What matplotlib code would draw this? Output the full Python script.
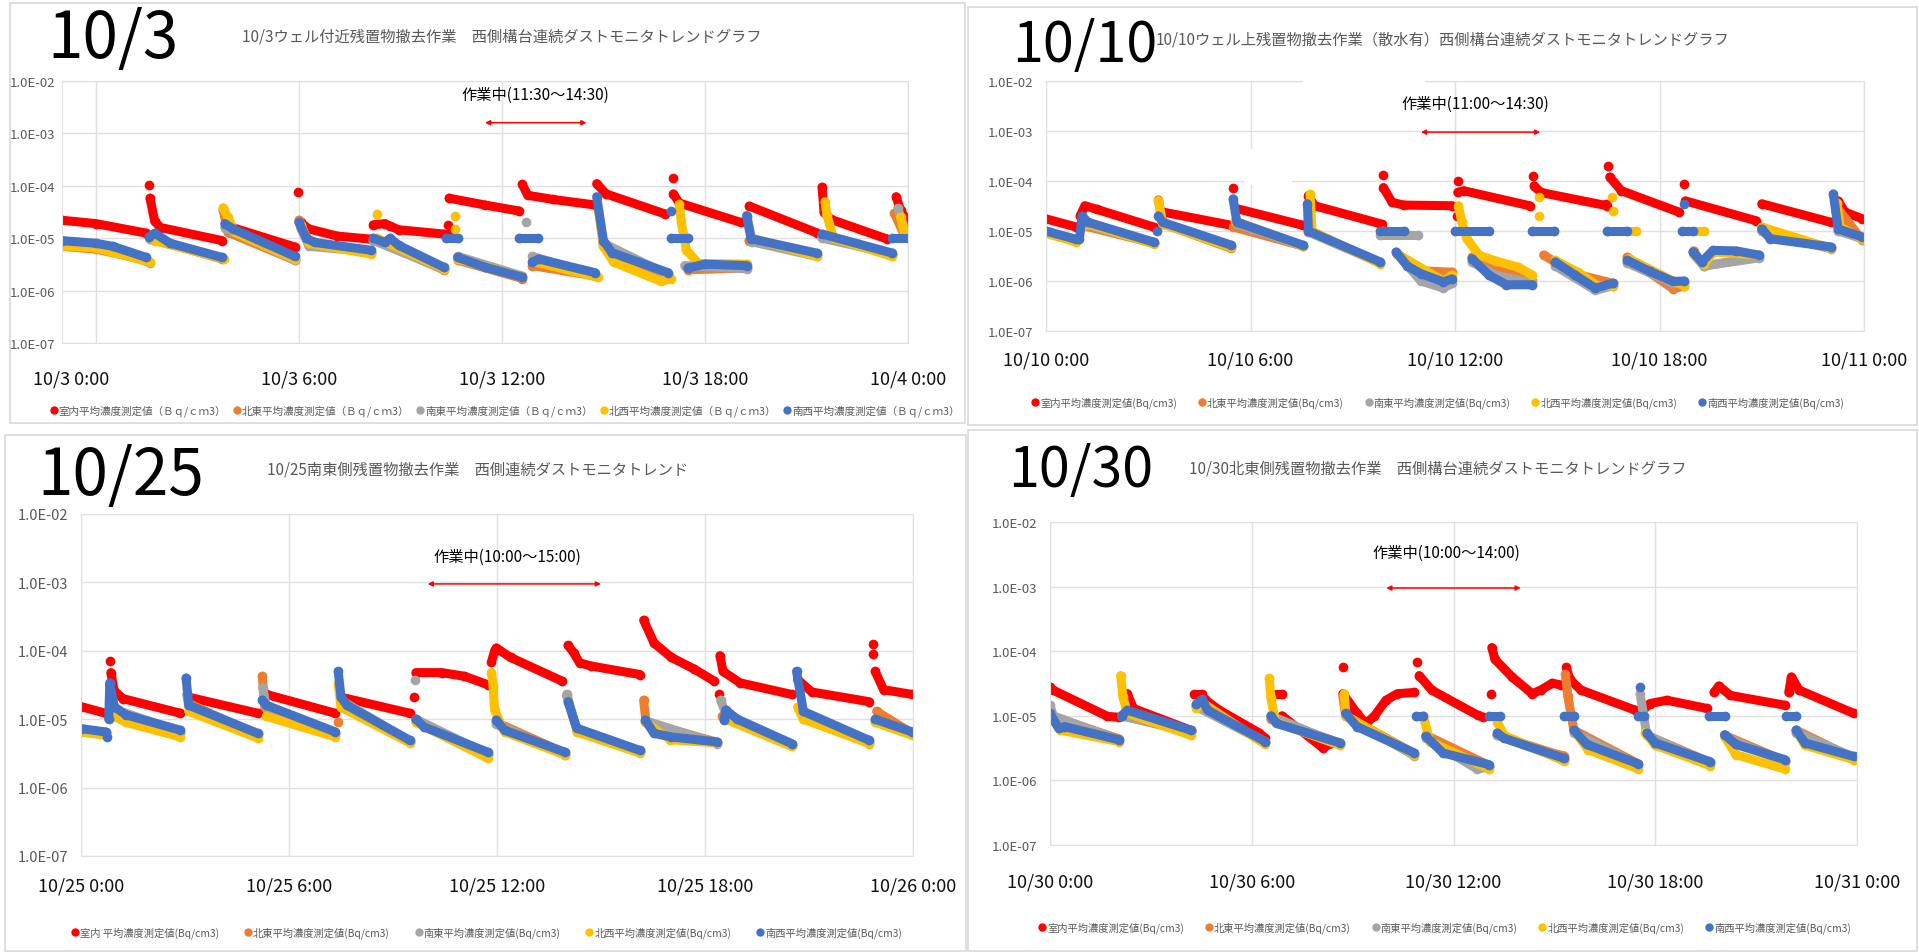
import matplotlib as mpl
mpl.use('Agg')
import matplotlib.pyplot as plt
import matplotlib.transforms as mtransforms
from matplotlib.lines import Line2D
from matplotlib.patches import Rectangle
from matplotlib.ticker import NullLocator

plt.rcParams['font.family'] = ['Noto Sans CJK JP', 'DejaVu Sans']

# ---------------- data (hour of day, Bq/cm3), one list per series and day ----------------
# 10/3 (logging starts shortly before midnight)
red_03 = [
    [(-1.0, 2.2e-5), (0.0, 1.9e-5), (1.49, 1.25e-5)], [(1.57, 1.05e-4)],
    [(1.6, 5.8e-5), (1.74, 2.1e-5), (1.91, 1.6e-5), (3.73, 9.0e-6)],
    [(3.9, 1.7e-5), (5.88, 6.8e-6)], [(5.97, 7.6e-5)],
    [(6.05, 2.0e-5), (6.3, 1.5e-5), (7.13, 1.1e-5), (8.12, 9.6e-6)],
    [(8.2, 1.8e-5), (8.54, 1.9e-5), (8.7, 1.7e-5), (8.95, 1.45e-5), (10.28, 1.2e-5)],
    [(10.4, 1.8e-5)], [(10.4, 1.2e-5)],
    [(10.44, 5.8e-5), (11.5, 4.3e-5), (12.51, 3.3e-5)],
    [(12.6, 1.07e-4), (12.76, 6.6e-5), (13.5, 5.5e-5), (14.75, 4.3e-5)],
    [(14.8, 1.1e-4), (15.08, 7.0e-5), (16.82, 2.9e-5)], [(17.05, 1.4e-4)],
    [(17.07, 7.0e-5), (17.24, 4.7e-5), (19.06, 2.0e-5)],
    [(19.31, 4.1e-5), (21.3, 1.27e-5)],
    [(21.46, 9.4e-5), (21.52, 3.1e-5), (21.71, 2.3e-5), (23.37, 9.7e-6)],
    [(23.65, 6.2e-5), (23.78, 3.4e-5), (24.0, 2.0e-5)],
]
orange_03 = [
    [(-1.0, 7.0e-6), (0.0, 6.2e-6), (1.5, 3.8e-6)], [(1.6, 1.0e-5), (3.73, 4.0e-6)],
    [(3.76, 3.5e-5), (3.9, 1.3e-5), (5.88, 3.8e-6)],
    [(6.0, 2.2e-5), (6.3, 8e-6), (8.12, 5.2e-6)], [(8.2, 9.5e-6), (10.28, 2.5e-6)],
    [(10.7, 3.8e-6), (12.6, 1.7e-6)], [(12.9, 3.0e-6), (14.75, 1.9e-6)],
    [(15.0, 8e-6), (15.3, 4e-6), (16.91, 1.8e-6)], [(17.5, 2.5e-6), (19.23, 2.7e-6)],
    [(19.3, 9e-6), (21.3, 4.8e-6)], [(21.46, 1.1e-5), (23.54, 4.8e-6)],
    [(23.6, 3e-5), (23.9, 1.1e-5)],
]
gray_03 = [
    [(-1.0, 8.0e-6), (0.0, 7.5e-6), (1.6, 3.4e-6)], [(1.6, 9.5e-6), (3.73, 4.2e-6)],
    [(3.81, 1.6e-5), (5.88, 3.8e-6)], [(6.05, 1.6e-5), (6.3, 7e-6), (8.12, 5.5e-6)],
    [(8.2, 9e-6), (10.28, 2.6e-6)], [(10.7, 4.5e-6), (12.6, 1.9e-6)], [(12.7, 2.0e-5)],
    [(12.9, 4.5e-6), (14.75, 2.0e-6)], [(15.0, 8e-6), (16.91, 2.0e-6)],
    [(17.4, 3.0e-6), (19.23, 2.6e-6)], [(19.25, 2.5e-5), (19.4, 8.5e-6), (21.3, 4.5e-6)],
    [(21.46, 1.0e-5), (23.54, 5.0e-6)], [(23.7, 3.7e-5), (23.9, 1.5e-5)],
]
yellow_03 = [
    [(-1.0, 7.2e-6), (0.0, 6.5e-6), (1.6, 3.5e-6)], [(1.74, 9e-6), (3.8, 4.0e-6)],
    [(3.76, 3.8e-5), (3.9, 2.5e-5), (4.1, 1.3e-5), (5.88, 4.0e-6)],
    [(6.05, 1.8e-5), (6.3, 8e-6), (8.12, 5.0e-6)], [(8.3, 2.9e-5)],
    [(8.3, 1.0e-5), (10.3, 2.6e-6)], [(10.6, 2.7e-5)], [(10.6, 1.5e-5)],
    [(10.7, 4.0e-6), (12.6, 1.8e-6)], [(13.0, 3.5e-6), (14.83, 1.8e-6)],
    [(14.85, 3.5e-5), (15.0, 7e-6), (15.3, 3.5e-6), (16.7, 1.5e-6), (17.0, 1.7e-6)],
    [(17.24, 4.4e-5), (17.3, 2.0e-5), (17.45, 6e-6), (17.8, 3.3e-6), (19.23, 3.2e-6)],
    [(19.4, 1.0e-5), (21.3, 4.5e-6)],
    [(21.55, 5e-5), (21.6, 2.8e-5), (21.8, 1.0e-5), (23.54, 4.5e-6)],
    [(23.78, 2.5e-5), (23.9, 1.2e-5)],
]
blue_03 = [
    [(-1.0, 9.0e-6), (0.0, 8.0e-6), (0.5, 7e-6), (1.49, 4.3e-6)],
    [(1.57, 1.05e-5), (1.74, 1.25e-5), (2.2, 8e-6), (3.73, 4.3e-6)],
    [(3.81, 1.9e-5), (4.06, 1.5e-5), (5.88, 4.5e-6)],
    [(6.0, 2.0e-5), (6.22, 1.0e-5), (6.47, 8.3e-6), (8.12, 5.9e-6)],
    [(8.2, 1.0e-5), (8.54, 8.3e-6), (8.7, 1.0e-5), (8.95, 7.3e-6), (10.28, 2.8e-6)],
    [(10.36, 1e-5), (10.69, 1e-5)], [(10.69, 4.3e-6), (11.5, 2.8e-6), (12.6, 1.8e-6)],
    [(12.51, 1e-5), (13.06, 1e-5)], [(12.9, 3.5e-6), (13.09, 4.0e-6), (14.75, 2.2e-6)],
    [(14.8, 6.2e-5), (15.0, 9e-6), (15.25, 5.3e-6), (16.91, 2.2e-6)],
    [(16.99, 3.3e-5)], [(16.99, 1e-5), (17.49, 1e-5)],
    [(17.5, 2.7e-6), (18.0, 3.2e-6), (19.23, 3.0e-6)],
    [(19.23, 2.7e-5), (19.36, 9.8e-6), (21.3, 5.2e-6)],
    [(21.46, 1.2e-5), (23.54, 5.2e-6)], [(23.54, 1e-5), (24.0, 1e-5)],
]

# 10/10
red_10 = [
    [(0.0, 1.75e-5), (0.89, 1.2e-5)],
    [(1.0, 2.0e-5), (1.14, 3.2e-5), (1.5, 2.7e-5), (3.16, 1.2e-5)],
    [(3.42, 2.4e-5), (5.44, 1.3e-5)], [(5.49, 7.1e-5)],
    [(5.6, 2.8e-5), (7.54, 1.3e-5)],
    [(7.7, 5.1e-5), (7.88, 3.2e-5), (9.81, 1.4e-5)], [(9.86, 1.4e-5)], [(9.9, 1.3e-4)],
    [(9.9, 7.4e-5), (10.15, 3.75e-5), (10.49, 3.3e-5), (11.92, 3.2e-5)],
    [(12.08, 1.0e-4)], [(12.05, 2e-5)],
    [(12.08, 5.9e-5), (12.25, 6.4e-5), (14.19, 3.2e-5)], [(14.29, 1.26e-4)],
    [(14.32, 8.0e-5), (14.52, 5.9e-5), (16.46, 3.2e-5)], [(16.43, 3.5e-5)], [(16.49, 2.0e-4)],
    [(16.54, 1.2e-4), (16.88, 6.4e-5), (18.56, 2.4e-5)], [(18.73, 8.7e-5)],
    [(18.76, 4.0e-5), (20.84, 1.6e-5)], [(21.0, 3.5e-5), (23.02, 1.5e-5)],
    [(23.24, 4.0e-5), (23.44, 2.4e-5), (23.95, 1.75e-5)],
]
orange_10 = [
    [(0.0, 9.5e-6), (0.89, 6.4e-6)], [(1.06, 1.3e-5), (3.16, 5.7e-6)],
    [(3.3, 4.2e-5), (3.42, 1.4e-5), (5.44, 4.5e-6)], [(5.5, 1.2e-5), (7.54, 5.0e-6)],
    [(7.7, 1.0e-5), (9.81, 2.3e-6)], [(10.3, 3.5e-6), (11.0, 1.6e-6), (11.92, 1.5e-6)],
    [(12.5, 3.0e-6), (14.27, 1.0e-6)], [(14.6, 3.3e-6), (15.5, 1.4e-6), (16.63, 9e-7)],
    [(17.05, 3.0e-6), (18.4, 7e-7), (18.73, 8e-7)],
    [(19.0, 4e-6), (19.3, 2.0e-6), (20.92, 3.0e-6)],
    [(21.0, 1.0e-5), (23.02, 4.6e-6)], [(23.2, 3.0e-5), (23.95, 6.5e-6)],
]
gray_10 = [
    [(0.0, 1.0e-5), (0.89, 6.6e-6)], [(1.06, 1.4e-5), (3.16, 5.8e-6)],
    [(3.42, 1.4e-5), (5.44, 5.0e-6)], [(5.6, 1.4e-5), (7.54, 5.0e-6)],
    [(7.7, 9.5e-6), (9.81, 2.3e-6)], [(9.8, 8.5e-6), (10.9, 8.5e-6)],
    [(10.3, 3.5e-6), (11.0, 1.0e-6), (11.66, 7.2e-7), (11.92, 9e-7)],
    [(12.5, 2.4e-6), (13.2, 1.3e-6), (14.27, 9e-7)],
    [(14.94, 2.0e-6), (16.12, 6.5e-7), (16.63, 8e-7)],
    [(17.05, 2.3e-6), (18.4, 9e-7), (18.73, 9e-7)],
    [(19.0, 3.4e-6), (19.3, 2.0e-6), (20.92, 2.9e-6)],
    [(21.0, 1.0e-5), (23.02, 4.4e-6)], [(23.24, 1.0e-5), (23.95, 7e-6)],
]
yellow_10 = [
    [(0.0, 9e-6), (0.89, 6e-6)], [(1.06, 1.2e-5), (1.23, 1.4e-5), (3.16, 5.5e-6)],
    [(3.3, 4.0e-5), (3.42, 1.4e-5), (5.44, 4.7e-6)], [(5.55, 1.6e-5), (7.54, 5.0e-6)],
    [(7.75, 5.4e-5), (7.8, 1.0e-5), (9.81, 2.2e-6)], [(9.9, 1e-5), (10.5, 1e-5)],
    [(10.3, 3.5e-6), (11.66, 1.0e-6), (11.9, 1.3e-6)],
    [(12.1, 3.2e-5), (12.2, 1.5e-5), (12.35, 7e-6), (12.7, 3.3e-6), (13.2, 2.5e-6),
     (13.85, 1.9e-6), (14.27, 1.3e-6)],
    [(14.45, 4.7e-5)], [(14.45, 2.0e-5)], [(14.3, 1e-5), (14.9, 1e-5)],
    [(14.94, 2.6e-6), (15.6, 1.5e-6), (16.2, 8e-7), (16.63, 8e-7)],
    [(16.6, 4.7e-5)], [(16.65, 2.5e-5)], [(16.5, 1e-5), (17.3, 1e-5)],
    [(17.1, 2.8e-6), (18.4, 1.0e-6), (18.73, 8e-7)], [(18.85, 1e-5), (19.3, 1e-5)],
    [(19.0, 3.5e-6), (19.3, 2.2e-6), (19.6, 3.8e-6), (20.92, 3.3e-6)],
    [(21.0, 1.2e-5), (23.02, 4.5e-6)], [(23.2, 3.7e-5), (23.3, 1.2e-5), (23.95, 7e-6)],
]
blue_10 = [
    [(0.0, 1.0e-5), (0.89, 6.8e-6)],
    [(0.98, 7e-6), (1.06, 2.0e-5), (1.23, 1.5e-5), (3.16, 6.0e-6)], [(3.25, 1.0e-5)],
    [(3.3, 2.0e-5), (3.42, 1.5e-5), (5.44, 5.2e-6)],
    [(5.49, 4.4e-5), (5.6, 1.5e-5), (7.54, 5.2e-6)],
    [(7.67, 3.5e-5), (7.7, 1.0e-5), (9.81, 2.4e-6)], [(9.81, 1e-5), (10.49, 1e-5)],
    [(10.27, 3.8e-6), (10.6, 2.0e-6), (11.0, 1.4e-6), (11.66, 9.6e-7), (11.9, 1.1e-6)],
    [(12.0, 1e-5), (13.0, 1e-5)],
    [(12.5, 2.8e-6), (13.0, 1.3e-6), (13.51, 8.4e-7), (14.27, 8.4e-7)],
    [(14.27, 1e-5), (14.9, 1e-5)],
    [(14.94, 2.4e-6), (15.53, 1.3e-6), (16.12, 7.2e-7), (16.63, 9e-7)],
    [(16.46, 1e-5), (17.05, 1e-5)],
    [(17.05, 2.6e-6), (17.72, 1.55e-6), (18.4, 9.8e-7), (18.73, 1.0e-6)],
    [(18.73, 3.5e-5)], [(18.65, 1e-5), (18.98, 1e-5)],
    [(18.98, 3.8e-6), (19.24, 2.4e-6), (19.57, 4.1e-6), (20.25, 4.0e-6), (20.92, 3.3e-6)],
    [(21.0, 1.1e-5), (21.25, 7e-6), (23.02, 4.8e-6)],
    [(23.1, 5.5e-5), (23.24, 1.1e-5), (23.95, 7.6e-6)],
]

# 10/25
red_25 = [
    [(0.0, 1.53e-5), (0.71, 1.22e-5)], [(0.83, 7.1e-5)],
    [(0.86, 4.8e-5), (0.96, 2.6e-5), (1.21, 2.0e-5), (2.87, 1.22e-5)],
    [(3.11, 2.1e-5), (5.1, 1.22e-5)], [(5.35, 2.3e-5), (7.34, 1.22e-5)],
    [(7.5, 2.1e-5), (9.49, 1.22e-5)], [(9.62, 2.1e-5)],
    [(9.66, 4.8e-5), (10.4, 4.8e-5), (11.06, 4.25e-5), (11.73, 3.2e-5)],
    [(11.84, 6.8e-5), (11.93, 1.0e-4), (11.98, 1.1e-4), (12.39, 8e-5), (13.88, 3.6e-5)],
    [(14.05, 1.2e-4), (14.21, 9.4e-5), (14.38, 6.7e-5), (14.71, 6.0e-5), (16.12, 4.5e-5)],
    [(16.23, 2.8e-4), (16.53, 1.3e-4), (17.03, 8e-5), (17.69, 5.4e-5), (18.27, 3.6e-5)],
    [(18.39, 2.3e-5)],
    [(18.43, 8.5e-5), (18.52, 5e-5), (19.01, 3.4e-5), (20.5, 2.3e-5)],
    [(20.67, 3.8e-5), (21.08, 2.5e-5), (22.74, 1.8e-5)],
    [(22.86, 1.25e-4)], [(22.86, 8.9e-5)],
    [(22.91, 5e-5), (23.15, 2.7e-5), (23.98, 2.3e-5)],
]
orange_25 = [
    [(0.0, 7e-6), (0.71, 6.2e-6)], [(0.96, 1.3e-5), (2.87, 6.3e-6)],
    [(3.11, 1.7e-5), (5.1, 5.8e-6)], [(5.23, 4.25e-5), (5.3, 1.5e-5), (7.34, 6.0e-6)],
    [(7.42, 9e-6)], [(7.5, 1.8e-5), (9.49, 4.6e-6)], [(9.66, 9.5e-6), (11.73, 3.0e-6)],
    [(11.98, 9e-6), (13.96, 3.2e-6)], [(14.01, 2.2e-5), (14.3, 7e-6), (16.12, 3.3e-6)],
    [(16.23, 1.9e-5), (16.3, 9e-6), (18.35, 4.6e-6)], [(18.5, 1.1e-5), (20.5, 4.2e-6)],
    [(20.84, 1.2e-5), (22.74, 4.6e-6)], [(22.95, 1.3e-5), (23.98, 6.2e-6)],
]
gray_25 = [
    [(0.0, 7e-6), (0.71, 6.4e-6)], [(0.96, 1.4e-5), (2.87, 6.5e-6)],
    [(3.05, 2.3e-5), (3.11, 1.5e-5), (5.1, 6.0e-6)],
    [(5.24, 2.9e-5), (5.35, 1.5e-5), (7.34, 6.2e-6)], [(7.5, 1.9e-5), (9.49, 4.7e-6)],
    [(9.64, 3.8e-5)], [(9.66, 1.0e-5), (11.73, 3.1e-6)], [(11.98, 8.5e-6), (13.96, 3.0e-6)],
    [(14.01, 2.3e-5), (14.3, 7.2e-6), (16.12, 3.4e-6)], [(16.28, 9.5e-6), (18.35, 4.4e-6)],
    [(18.45, 1.9e-5), (18.6, 1.2e-5), (20.5, 4.3e-6)], [(20.84, 1.2e-5), (22.74, 4.7e-6)],
    [(22.91, 9.5e-6), (23.98, 6.0e-6)],
]
yellow_25 = [
    [(0.0, 6.5e-6), (0.71, 5.8e-6)], [(0.96, 1.1e-5), (1.29, 9e-6), (2.87, 5.5e-6)],
    [(3.11, 1.3e-5), (5.1, 5.3e-6)], [(5.35, 1.1e-5), (7.34, 5.5e-6)],
    [(7.42, 3.3e-5), (7.5, 1.5e-5), (9.49, 4.5e-6)], [(9.66, 9e-6), (11.73, 2.7e-6)],
    [(11.84, 4.8e-5), (11.89, 3.0e-5), (11.93, 1.36e-5), (12.22, 6.5e-6), (13.96, 3.0e-6)],
    [(14.3, 6.5e-6), (16.12, 3.2e-6)], [(16.28, 9e-6), (17.0, 5.0e-6), (18.35, 4.5e-6)],
    [(18.6, 1.0e-5), (20.5, 4.0e-6)], [(20.67, 1.5e-5), (20.84, 1.0e-5), (22.74, 4.4e-6)],
    [(22.91, 9e-6), (23.98, 5.8e-6)],
]
blue_25 = [
    [(0.0, 7.3e-6), (0.71, 6.5e-6)], [(0.76, 5.5e-6)],
    [(0.8, 1.0e-5), (0.83, 3.4e-5), (0.96, 1.53e-5), (1.29, 1.16e-5), (2.87, 6.9e-6)],
    [(3.03, 4.0e-5), (3.11, 1.6e-5), (5.1, 6.2e-6)],
    [(5.23, 1.9e-5), (5.35, 1.6e-5), (7.34, 6.5e-6)],
    [(7.42, 5e-5), (7.5, 2.1e-5), (7.67, 1.6e-5), (9.49, 4.9e-6)],
    [(9.66, 1.0e-5), (9.9, 7.7e-6), (11.73, 3.3e-6)],
    [(11.98, 9.7e-6), (12.22, 6.9e-6), (13.96, 3.3e-6)],
    [(14.05, 1.8e-5), (14.3, 7.4e-6), (16.12, 3.5e-6)],
    [(16.28, 9.7e-6), (16.53, 6.2e-6), (17.03, 5.5e-6), (18.35, 4.65e-6)],
    [(18.55, 9.7e-6), (18.6, 1.36e-5), (18.93, 1.0e-5), (20.5, 4.4e-6)],
    [(20.64, 5e-5), (20.84, 1.3e-5), (22.74, 4.9e-6)],
    [(22.91, 1.0e-5), (23.98, 6.5e-6)],
]

# 10/30
red_30 = [
    [(0.0, 2.8e-5), (0.09, 2.5e-5), (1.71, 9.8e-6), (2.05, 9.5e-6)],
    [(2.17, 2.2e-5), (2.3, 2.2e-5), (2.48, 1.3e-5), (4.18, 6.0e-6)],
    [(4.27, 2.2e-5), (4.52, 2.2e-5)],
    [(4.6, 1.8e-5), (5.04, 1.22e-5), (6.23, 5.4e-6), (6.4, 4.5e-6)],
    [(6.57, 2.2e-5), (6.91, 2.2e-5)], [(6.9, 1.0e-5), (8.11, 3.2e-6), (8.4, 3.8e-6)],
    [(8.71, 5.6e-5)],
    [(8.71, 2.2e-5), (9.13, 1.09e-5), (9.39, 7.6e-6), (9.64, 9.8e-6), (9.99, 1.74e-5),
     (10.33, 2.2e-5), (10.84, 2.3e-5)],
    [(10.92, 6.7e-5)], [(10.98, 4.2e-5), (11.35, 2.5e-5), (12.72, 1.02e-5), (12.89, 9.5e-6)],
    [(13.11, 2.2e-5)],
    [(13.14, 1.14e-4), (13.23, 7.5e-5), (13.74, 4e-5), (14.34, 2.2e-5), (14.59, 2.5e-5),
     (14.94, 3.2e-5), (15.19, 3.0e-5)],
    [(15.36, 5.6e-5), (15.45, 3.7e-5), (15.79, 2.5e-5), (17.41, 1.22e-5)],
    [(17.67, 1.3e-5), (17.84, 1.55e-5), (18.35, 1.74e-5), (19.54, 1.3e-5)],
    [(19.75, 2.3e-5), (19.89, 2.9e-5), (20.23, 2.07e-5), (21.85, 1.46e-5)],
    [(21.97, 2.3e-5), (22.05, 4e-5), (22.28, 2.5e-5), (23.9, 1.09e-5)],
]
orange_30 = [
    [(0.0, 1.0e-5), (2.05, 4.4e-6)], [(2.13, 1.0e-5), (4.18, 5.6e-6)],
    [(4.35, 1.4e-5), (6.4, 4.0e-6)], [(6.57, 9e-6), (8.62, 3.8e-6)],
    [(8.71, 2.0e-5), (8.79, 1.0e-5), (10.84, 2.6e-6)], [(11.18, 5e-6), (13.06, 1.7e-6)],
    [(13.3, 5e-6), (15.0, 2.6e-6), (15.28, 2.4e-6)],
    [(15.33, 4.4e-5), (15.4, 2.0e-5), (15.58, 6e-6), (17.5, 1.8e-6)],
    [(17.75, 5e-6), (19.63, 1.9e-6)], [(20.06, 5e-6), (21.85, 2.0e-6)],
    [(22.19, 6e-6), (23.9, 2.2e-6)],
]
gray_30 = [
    [(0.0, 1.45e-5), (0.1, 1.0e-5), (2.05, 4.2e-6)], [(2.13, 1.0e-5), (4.18, 5.8e-6)],
    [(4.35, 1.4e-5), (6.4, 3.9e-6)], [(6.57, 1.0e-5), (8.62, 3.6e-6)],
    [(8.79, 1.0e-5), (10.84, 2.4e-6)], [(11.18, 4.5e-6), (12.7, 1.5e-6), (13.06, 1.6e-6)],
    [(13.3, 5e-6), (15.28, 2.1e-6)], [(15.58, 5.5e-6), (17.5, 1.7e-6)],
    [(17.55, 2.2e-5), (17.75, 5e-6), (19.63, 1.8e-6)], [(20.06, 4.8e-6), (21.85, 1.9e-6)],
    [(22.19, 5.5e-6), (23.9, 2.3e-6)],
]
yellow_30 = [
    [(0.0, 1.0e-5), (0.3, 6e-6), (2.05, 4.0e-6)],
    [(2.1, 4.2e-5), (2.17, 1.95e-5), (2.3, 1.1e-5), (4.18, 5.0e-6)],
    [(4.35, 1.3e-5), (4.52, 1.6e-5), (6.4, 3.6e-6)],
    [(6.52, 3.8e-5), (6.57, 1.9e-5), (6.7, 8e-6), (8.62, 3.5e-6)],
    [(8.75, 2.2e-5), (8.8, 1.0e-5), (10.84, 2.5e-6)], [(11.1, 1e-5), (11.3, 4e-6), (13.06, 1.5e-6)],
    [(13.3, 8e-6), (13.5, 5e-6), (15.28, 2.0e-6)], [(15.58, 6e-6), (16.0, 3e-6), (17.5, 1.5e-6)],
    [(17.7, 5.5e-6), (18.0, 3.5e-6), (19.63, 1.7e-6)],
    [(20.06, 4.8e-6), (20.4, 2.5e-6), (21.85, 1.5e-6)],
    [(22.19, 6e-6), (22.45, 3.5e-6), (23.9, 2.1e-6)],
]
blue_30 = [
    [(0.0, 1.09e-5), (0.26, 6.4e-6), (0.43, 6.8e-6), (2.05, 4.25e-6)],
    [(2.13, 1.0e-5), (2.3, 1.22e-5), (4.18, 6.0e-6)],
    [(4.35, 1.5e-5), (4.52, 1.8e-5), (4.69, 1.22e-5), (6.4, 4.0e-6)],
    [(6.57, 1.0e-5), (6.74, 7.6e-6), (8.62, 3.8e-6)],
    [(8.79, 1.09e-5), (9.13, 6.8e-6), (10.84, 2.65e-6)], [(10.88, 1e-5), (11.1, 1e-5)],
    [(11.18, 4.8e-6), (11.69, 2.65e-6), (13.06, 1.75e-6)], [(13.06, 1e-5), (13.37, 1e-5)],
    [(13.3, 5.4e-6), (13.5, 4.5e-6), (15.28, 2.2e-6)], [(15.28, 1e-5), (15.58, 1e-5)],
    [(15.58, 6e-6), (15.96, 3.6e-6), (17.5, 1.8e-6)], [(17.55, 2.8e-5)],
    [(17.5, 1e-5), (17.67, 1e-5)], [(17.75, 5.4e-6), (18.0, 3.8e-6), (19.63, 1.95e-6)],
    [(19.6, 1e-5), (20.06, 1e-5)], [(20.06, 5.1e-6), (20.4, 3.6e-6), (21.85, 2.1e-6)],
    [(21.9, 1e-5), (22.19, 1e-5)], [(22.19, 6e-6), (22.45, 3.8e-6), (23.9, 2.35e-6)],
]

days = ['10/3', '10/10', '10/25', '10/30']
next_days = ['10/4', '10/11', '10/26', '10/31']
titles = [
    '10/3ウェル付近残置物撤去作業　西側構台連続ダストモニタトレンドグラフ',
    '10/10ウェル上残置物撤去作業（散水有）西側構台連続ダストモニタトレンドグラフ',
    '10/25南東側残置物撤去作業　西側連続ダストモニタトレンド',
    '10/30北東側残置物撤去作業　西側構台連続ダストモニタトレンドグラフ',
]
work_spans = [(11.5, 14.5), (11.0, 14.5), (10.0, 15.0), (10.0, 14.0)]
work_labels = ['作業中(11:30～14:30)', '作業中(11:00～14:30)',
               '作業中(10:00～15:00)', '作業中(10:00～14:00)']
points = ['室内', '北東', '南東', '北西', '南西']
legend_1003 = [p + '平均濃度測定値（Ｂｑ/ｃｍ3）' for p in points]
legend_plain = [p + '平均濃度測定値(Bq/cm3)' for p in points]
legend_1025 = ['室内 平均濃度測定値(Bq/cm3)'] + legend_plain[1:]

series = [
    [red_03, orange_03, gray_03, yellow_03, blue_03],
    [red_10, orange_10, gray_10, yellow_10, blue_10],
    [red_25, orange_25, gray_25, yellow_25, blue_25],
    [red_30, orange_30, gray_30, yellow_30, blue_30],
]
colors = ['#FF0000', '#ED7D31', '#A5A5A5', '#FFC000', '#4472C4']

# ---------------- layout (pixels, y measured from top) ----------------
W, H = 1919, 953
fig = plt.figure(figsize=(W / 100, H / 100), dpi=100)


def fx(x):
    return x / W


def fy(y):
    return 1 - y / H


# panel frames
frames = [(10, 4, 965, 424), (968, 8, 1917, 426), (5, 436, 966, 952), (968, 431, 1917, 952)]
for x0, y0, x1, y1 in frames:
    fig.patches.append(Rectangle((fx(x0), fy(y1)), fx(x1 - x0), (y1 - y0) / H,
                                 transform=fig.transFigure, facecolor='none',
                                 edgecolor='#D9D9D9', lw=1.2))

plot_boxes = [(62, 82, 908, 344), (1046, 82, 1864, 332), (81, 515, 913, 857), (1050, 523, 1857, 846)]
x_start = [-1.0, 0, 0, 0]
first_label_shift = [-25, 0, 0, 0]
big_pos = [(47, 40), (1012, 46), (37, 477), (1008, 471)]
big_size = [46, 40, 46, 40]
title_pos = [(242, 37), (1156, 40), (267, 470), (1189, 469)]
xlab_pad = [19, 14, 15, 20]
ylab_pad = [5, 9, 9, 9]
ylab_size = [9.5, 9.5, 10.5, 9.5]
arrow_y = [1.6e-3, 9.5e-4, 9.5e-4, 9.5e-4]
text_y = [5.5e-3, 3.5e-3, 2.4e-3, 3.4e-3]
text_x = [13.0, 12.6, 12.3, 11.8]
legend_pos = [(505, 411), (1438, 403), (487, 933), (1445, 928)]
legend_labels = [legend_1003, legend_plain, legend_1025, legend_plain]
legend_size = [7.6, 7.4, 7.4, 7.4]
legend_gap = [0.7, 2.1, 2.5, 2.1]

for i in range(4):
    x0, y0, x1, y1 = plot_boxes[i]
    ax = fig.add_axes([fx(x0), fy(y1), (x1 - x0) / W, (y1 - y0) / H])
    ax.set_yscale('log')
    ax.set_xlim(x_start[i], 24)
    ax.set_ylim(1e-7, 1e-2)

    for segs, c in zip(series[i], colors):
        for seg in segs:
            xs = [p[0] for p in seg]
            ys = [p[1] for p in seg]
            ax.plot(xs, ys, color=c, lw=6.5, marker='o', ms=7, mec='none',
                    solid_capstyle='round', solid_joinstyle='round')

    ax.set_xticks([0, 6, 12, 18, 24])
    ax.set_xticklabels([f'{days[i]} 0:00', f'{days[i]} 6:00', f'{days[i]} 12:00',
                        f'{days[i]} 18:00', f'{next_days[i]} 0:00'])
    ax.set_yticks([1e-7, 1e-6, 1e-5, 1e-4, 1e-3, 1e-2])
    ax.set_yticklabels(['1.0E-07', '1.0E-06', '1.0E-05', '1.0E-04', '1.0E-03', '1.0E-02'])
    ax.yaxis.set_minor_locator(NullLocator())
    ax.tick_params(axis='x', length=0, pad=xlab_pad[i], labelsize=13, labelcolor='#111111')
    ax.tick_params(axis='y', length=0, pad=ylab_pad[i], labelsize=ylab_size[i],
                   labelcolor='#595959')
    if first_label_shift[i]:
        lab = ax.get_xticklabels()[0]
        lab.set_transform(lab.get_transform() + mtransforms.Affine2D().translate(
            first_label_shift[i], 0))
    ax.grid(True, color='#E0E0E0', lw=1)
    ax.set_axisbelow(True)
    for s in ax.spines.values():
        s.set_color('#E0E0E0')

    a, b = work_spans[i]
    ax.annotate('', xy=(b, arrow_y[i]), xytext=(a, arrow_y[i]),
                arrowprops=dict(arrowstyle='<|-|>', color='#FF0000', lw=1.1,
                                mutation_scale=7, shrinkA=0, shrinkB=0))
    ax.text(text_x[i], text_y[i], work_labels[i], ha='center', va='center',
            fontsize=11, color='#000000')

    bx, by = big_pos[i]
    fig.text(fx(bx), fy(by), days[i], ha='left', va='center', fontsize=big_size[i],
             color='#000000')
    tx, ty = title_pos[i]
    fig.text(fx(tx), fy(ty), titles[i], ha='left', va='center', fontsize=11, color='#595959')

    handles = [Line2D([], [], ls='', marker='o', ms=5, color=c) for c in colors]
    lx, ly = legend_pos[i]
    fig.legend(handles, legend_labels[i], loc='center', bbox_to_anchor=(fx(lx), fy(ly)),
               ncol=5, frameon=False, fontsize=legend_size[i], labelcolor='#595959',
               handlelength=0.6, handletextpad=0.2, columnspacing=legend_gap[i],
               borderpad=0, borderaxespad=0)

# white patches that cover parts of the 10/10 grid in the source
for x0, y0, x1, y1 in [(1303, 76, 1425, 88), (1244, 150, 1292, 186)]:
    fig.patches.append(Rectangle((fx(x0), fy(y1)), fx(x1 - x0), (y1 - y0) / H,
                                 transform=fig.transFigure, facecolor='white',
                                 edgecolor='none', zorder=5))

fig.savefig('out.png', dpi=100)
